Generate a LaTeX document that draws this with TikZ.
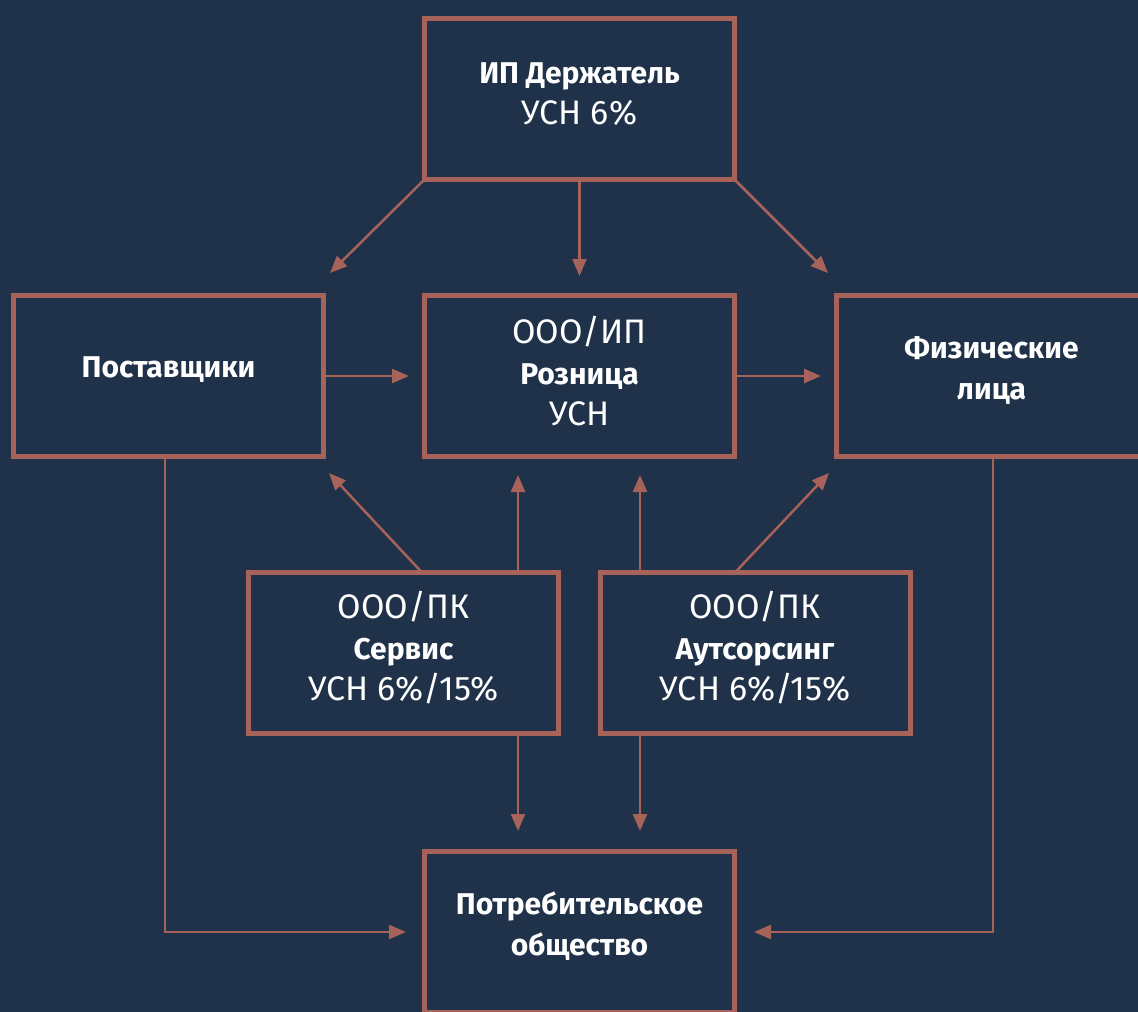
\documentclass[tikz,border=0pt]{standalone}
\usepackage{fontspec}
\setmainfont{Fira Sans}
\usetikzlibrary{arrows.meta,calc}
\definecolor{bg}{HTML}{203249}
\definecolor{rust}{HTML}{A7625A}
\newcommand\bfnt{\fontsize{30}{41}\selectfont\bfseries}
\newcommand\rgnt{\fontsize{34}{41}\selectfont\mdseries}
\begin{document}
\begin{tikzpicture}[x=1pt,y=-1pt,
  box/.style={draw=rust,line width=5pt,fill=bg,minimum width=310pt,minimum height=161pt,outer sep=0pt,inner sep=0pt},
  lab/.style={text=white,align=center,inner sep=0pt,font={\fontsize{30}{41}\selectfont}},
  arr/.style={draw=rust,line width=2.5pt,-{Triangle[length=17pt,width=14pt]}},
  ln/.style={draw=rust,line width=2.5pt}]
\fill[bg] (0,0) rectangle (1138,1012);
\useasboundingbox (0,0) rectangle (1138,1012);

% boxes
\node[box] (top) at (579.5,99) {};
\node[box] (left) at (168.5,376) {};
\node[box] (mid) at (579.5,376) {};
\node[box] (right) at (991.5,376) {};
\node[box] (serv) at (403.5,653) {};
\node[box] (outs) at (755,653) {};
\node[box] (bot) at (579.5,932) {};

% labels
\node[lab] (topT) at ($(top)+(0,-5)$) {\bfnt ИП Держатель\\\rgnt УСН 6\%};
\node[lab] (leftT) at ($(left)+(0,-6)$) {\bfnt Поставщики};
\node[lab] (midT) at ($(mid)+(0,-5)$) {\rgnt ООО/ИП\\\bfnt Розница\\\rgnt УСН};
\node[lab] (rightT) at ($(right)+(0,-5)$) {\bfnt Физические\\\bfnt лица};
\node[lab] (servT) at ($(serv)+(0,-5)$) {\rgnt ООО/ПК\\\bfnt Сервис\\\rgnt УСН 6\%/15\%};
\node[lab] (outsT) at ($(outs)+(0,-5)$) {\rgnt ООО/ПК\\\bfnt Аутсорсинг\\\rgnt УСН 6\%/15\%};
\node[lab] (botT) at ($(bot)+(0,-6)$) {\bfnt Потребительское\\\bfnt общество};

% free ends
\coordinate (e1) at (330,273);
\coordinate (e2) at (579.5,276);
\coordinate (e3) at (828,273);
\coordinate (e4) at (409,376);
\coordinate (e5) at (821,376);
\coordinate (e6) at (329,473);
\coordinate (e7) at (518,475);
\coordinate (e8) at (640,475);
\coordinate (e9) at (829,473);
\coordinate (e10) at (518,831);
\coordinate (e11) at (640,831);
\coordinate (e12) at (406,932);
\coordinate (e13) at (754,932);
\coordinate (k1) at (165,932);
\coordinate (k2) at (993,932);

% connectors
\draw[arr] (top.south west) -- (e1);
\draw[arr] (top.south) -- (e2);
\draw[arr] (top.south east) -- (e3);
\draw[arr] (left.east) -- (e4);
\draw[arr] (mid.east) -- (e5);
\draw[arr] ([xshift=18.5pt]serv.north) -- (e6);
\draw[arr] ([xshift=114.5pt]serv.north) -- (e7);
\draw[arr] ([xshift=-115pt]outs.north) -- (e8);
\draw[arr] ([xshift=-20pt]outs.north) -- (e9);
\draw[arr] ([xshift=114.5pt]serv.south) -- (e10);
\draw[arr] ([xshift=-115pt]outs.south) -- (e11);
\draw[arr] (left.south -| k1) -- (k1) -- (e12);
\draw[arr] (right.south -| k2) -- (k2) -- (e13);
\end{tikzpicture}
\end{document}
